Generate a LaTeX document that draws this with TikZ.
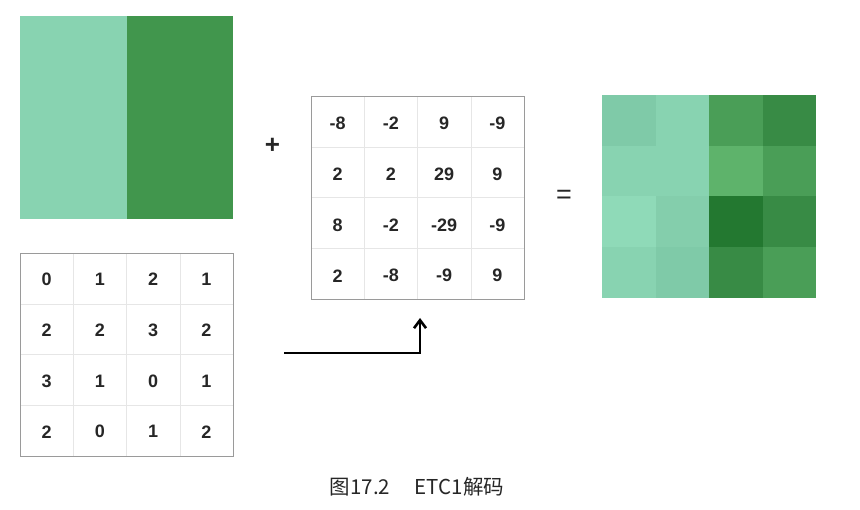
\documentclass[tikz,border=0pt]{standalone}
\usepackage{fontspec}
\setmainfont{Liberation Sans}
\newfontfamily\cjk{Noto Sans CJK SC}
\usetikzlibrary{arrows.meta}
\definecolor{lg}{HTML}{88D3B1}
\definecolor{lgd}{HTML}{7FCAA8}
\definecolor{lgl}{HTML}{8FDAB8}
\definecolor{lgm}{HTML}{84CEAC}
\definecolor{dg}{HTML}{41964D}
\definecolor{dga}{HTML}{4A9E57}
\definecolor{dgb}{HTML}{388B45}
\definecolor{dgc}{HTML}{5EB36B}
\definecolor{dgd}{HTML}{237830}
\definecolor{gridc}{HTML}{E6E6E6}
\definecolor{framec}{HTML}{9A9A9A}
\tikzset{
  num/.style={font=\bfseries\fontsize{18}{20}\selectfont, text=black!85},
  sym/.style={font=\fontsize{27}{30}\selectfont, text=black!85},
  cell/.style={draw=none, minimum width=53.25pt, minimum height=50.75pt, inner sep=0pt},
}
\begin{document}
\begin{tikzpicture}[x=1pt,y=-1pt]
\useasboundingbox (0,0) rectangle (860,510);
% top-left color block
\fill[lg] (20,16) rectangle (127,219);
\fill[dg] (127,16) rectangle (233,219);
\node[cell, minimum width=213pt, minimum height=203pt] (blk) at (126.5,117.5) {};
% left grid
\node[cell, minimum width=213pt, minimum height=203pt] (gl) at (126.5,354.5) {};
\foreach \i in {1,2,3} {
  \draw[gridc] (20+53.25*\i,253) -- (20+53.25*\i,456);
  \draw[gridc] (20,253+50.75*\i) -- (233,253+50.75*\i);
}
\draw[framec] (20,253) rectangle (233,456);
\foreach \r/\row in {0/{0,1,2,1},1/{2,2,3,2},2/{3,1,0,1},3/{2,0,1,2}} {
  \foreach \v [count=\c from 0] in \row {
    \node[num] (l\r\c) at (46.6+53.25*\c,279.5+50.75*\r) {\v};
  }
}
% middle grid
\node[cell, minimum width=213pt, minimum height=203pt] (gm) at (417.5,197.5) {};
\foreach \i in {1,2,3} {
  \draw[gridc] (311+53.25*\i,96) -- (311+53.25*\i,299);
  \draw[gridc] (311,96+50.75*\i) -- (524,96+50.75*\i);
}
\draw[framec] (311,96) rectangle (524,299);
\foreach \r/\row in {0/{-8,-2,9,-9},1/{2,2,29,9},2/{8,-2,-29,-9},3/{2,-8,-9,9}} {
  \foreach \v [count=\c from 0] in \row {
    \node[num] (m\r\c) at (337.6+53.25*\c,123.5+50.75*\r) {\v};
  }
}
% symbols
\node[sym, font=\bfseries\fontsize{26}{30}\selectfont] (plus) at (272.5,146) {+};
\node[sym] (eq) at (564,197) {=};
% right result block
\foreach \r/\row in {0/{lgd,lg,dga,dgb},1/{lg,lg,dgc,dga},2/{lgl,lgm,dgd,dgb},3/{lg,lgd,dgb,dga}} {
  \foreach \col [count=\c from 0] in \row {
    \fill[\col] (602+53.5*\c,95+50.75*\r) rectangle (655.5+53.5*\c,145.75+50.75*\r);
  }
}
\node[cell, minimum width=214pt, minimum height=203pt] (res) at (709,196.5) {};
% arrow
\coordinate (as) at (284,353);
\coordinate (ac) at (420,353);
\coordinate (ae) at (420,318);
\draw[line width=2.6pt, -{Straight Barb[length=8pt,width=12pt,line width=2.6pt]}] (as) -- (ac) -- (ae);
% caption
\node[font=\cjk\fontsize{20.5}{24}\selectfont, text=black!85] (cap) at (417,487) {图17.2\hspace{1.2em}ETC1解码};
\end{tikzpicture}
\end{document}
